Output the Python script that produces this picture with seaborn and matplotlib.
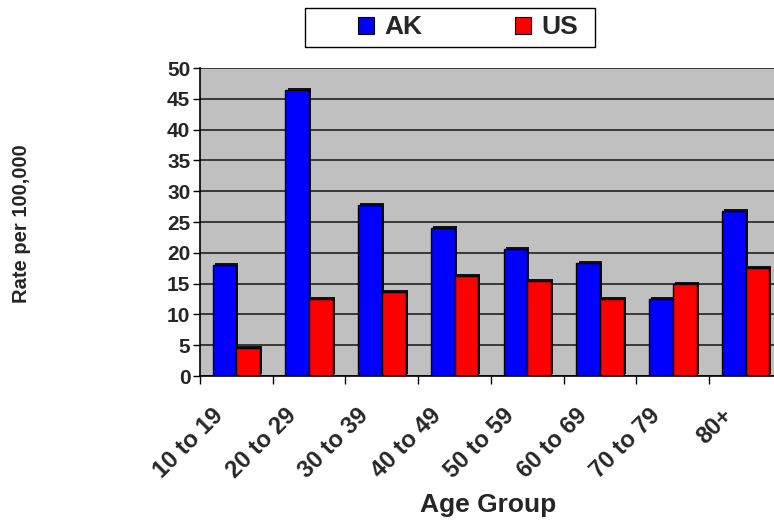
import numpy as np
import pandas as pd
import matplotlib
matplotlib.use('Agg')
import matplotlib.pyplot as plt
import matplotlib.patheffects as pe
from matplotlib.patches import Patch, Rectangle
import seaborn as sns

# data
age_groups = ['10 to 19', '20 to 29', '30 to 39', '40 to 49',
              '50 to 59', '60 to 69', '70 to 79', '80+']
ak_rates = [18.0, 46.4, 27.8, 24.0, 20.6, 18.4, 12.5, 26.8]
us_rates = [4.6, 12.5, 13.6, 16.2, 15.4, 12.5, 15.0, 17.6]
regions = ['AK', 'US']
colors = ['#0000ff', '#ff0000']

df = pd.DataFrame({
    'age': age_groups * 2,
    'rate': ak_rates + us_rates,
    'region': ['AK'] * len(age_groups) + ['US'] * len(age_groups),
})

sns.set_style('white')
plt.rcParams['font.family'] = ['Liberation Sans', 'DejaVu Sans']
plt.rcParams['font.weight'] = 'bold'

fig = plt.figure(figsize=(7.74, 5.25), dpi=100)
ax = fig.add_axes([200 / 774, 1 - 376 / 525, 582 / 774, 308 / 525])
ax.set_facecolor('#c0c0c0')

sns.barplot(data=df, x='age', y='rate', hue='region', palette=colors, saturation=1,
            width=0.65, edgecolor='black', linewidth=1.0, legend=False, ax=ax)
for bar in ax.patches:
    bar.set_path_effects([pe.SimplePatchShadow(offset=(1.5, 1.5), shadow_rgbFace='black', alpha=0.9),
                          pe.Normal()])

ax.set_xlim(-0.5, len(age_groups) - 0.5)
ax.set_ylim(0, 50)
ax.set_yticks(np.arange(0, 51, 5))
ax.yaxis.grid(True, color='#222222', linewidth=1.2)
ax.set_axisbelow(True)

# tick marks between groups, labels placed a bit left of the group centers
ax.set_xticks(np.arange(len(age_groups) + 1) - 0.5)
ax.set_xticklabels([])
ax.set_xticks(np.arange(len(age_groups)) - 0.34, minor=True)
ax.set_xticklabels(age_groups, minor=True, rotation=45, ha='right',
                   rotation_mode='anchor', fontsize=17, fontweight='bold')
ax.tick_params(axis='x', which='major', length=6, width=1, color='black', direction='out', bottom=True)
ax.tick_params(axis='x', which='minor', length=0, pad=20)
ax.tick_params(axis='y', length=5, width=1, color='black', direction='out', left=True, labelsize=15, pad=2)
for lbl in ax.get_yticklabels():
    lbl.set_fontweight('bold')

for side in ['top', 'right']:
    ax.spines[side].set_visible(False)
for side in ['left', 'bottom']:
    ax.spines[side].set_color('black')
    ax.spines[side].set_linewidth(1.2)

ax.set_xlabel('')
ax.set_ylabel('')
fig.text(488 / 774, 1 - 505 / 525, 'Age Group', ha='center', va='center',
         fontsize=19, fontweight='bold')
fig.text(22 / 774, 1 - 224 / 525, 'Rate per 100,000', ha='center', va='center',
         rotation=90, fontsize=14.5, fontweight='bold')

# legend box drawn separately so the entries sit like the original
fig.patches.append(Rectangle((305 / 774, 1 - 47 / 525), 290 / 774, 39 / 525,
                             transform=fig.transFigure, facecolor='white',
                             edgecolor='black', linewidth=1.0))
handles = [Patch(facecolor=c, edgecolor='black', linewidth=0.8) for c in colors]
leg = fig.legend(handles, regions, loc='center', bbox_to_anchor=(468 / 774, 1 - 27.5 / 525),
                 ncol=2, frameon=False, prop={'weight': 'bold', 'size': 19},
                 handlelength=0.6, handleheight=0.6, handletextpad=0.4,
                 columnspacing=3.5, borderpad=0.3, borderaxespad=0)

plt.savefig('out.png', dpi=100)
